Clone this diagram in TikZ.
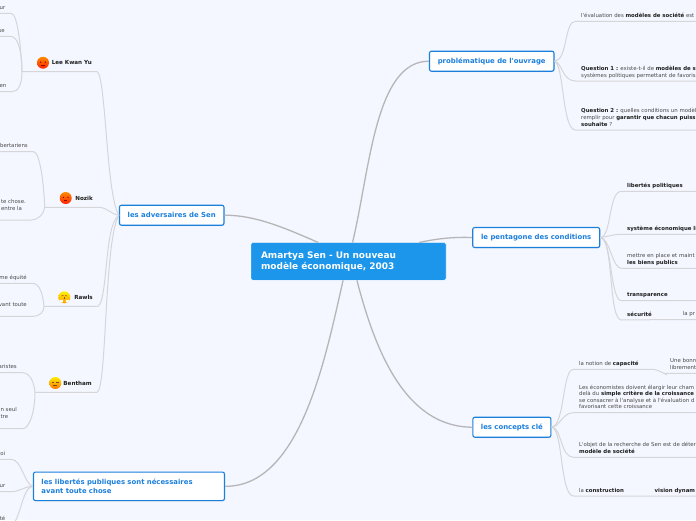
\documentclass[tikz,border=0pt]{standalone}
\usepackage{fontspec}
\setmainfont{DejaVu Sans}[Ligatures=TeXOff]
\usetikzlibrary{shadows}
\definecolor{paper}{HTML}{F4F7FF}
\definecolor{rootblue}{HTML}{1B96EA}
\definecolor{boxblue}{HTML}{1B7FDC}
\definecolor{limbgray}{HTML}{B6B6B8}
\definecolor{twiggray}{HTML}{D6D6DA}
\definecolor{inkgray}{HTML}{4A4A4A}
\definecolor{inkdark}{HTML}{1E1E1E}
\begin{document}
\begin{tikzpicture}[
    x=1pt, y=-1pt,
    rootbox/.style={fill=rootblue, draw=white, line width=0.3pt, rounded corners=1.5pt, text width=175pt, minimum height=37.5pt, inner xsep=10pt, align=left, text=white, font=\fontsize{9}{11.6}\selectfont\bfseries},
    topicbox/.style={fill=white, draw=boxblue, line width=1.1pt, rounded corners=2pt, minimum height=20pt, text=boxblue, font=\fontsize{6.9}{8.8}\selectfont\bfseries, drop shadow={shadow xshift=0.4pt, shadow yshift=-0.8pt, opacity=0.2}},
    leaf/.style={inner xsep=5.5pt, inner ysep=2.6pt, text depth=1.2pt, align=left, text=inkgray, font=\fontsize{5.4}{6.55}\selectfont},
    leafr/.style={leaf, anchor=south west},
    leafl/.style={leaf, anchor=south east},
    who/.style={anchor=south east, inner xsep=5pt, inner ysep=5.4pt, text depth=1.2pt, text=inkdark, font=\fontsize{5.6}{6.5}\selectfont\bfseries},
    limb/.style={draw=limbgray, line width=1.3pt},
    twig/.style={draw=twiggray, line width=1pt},
    facebase/.style={circle, minimum size=12pt, inner sep=0pt},
    angry/.style={facebase, top color=orange!90!yellow, bottom color=red!75!orange, path picture={
        \fill[red!55!black] (-2.3,-0.6) circle (0.7) (2.3,-0.6) circle (0.7);
        \draw[red!55!black, line width=0.5pt] (-1.7,2.6) -- (1.7,2.6);}},
    hugging/.style={facebase, top color=yellow!90!orange, bottom color=orange!80!yellow, path picture={
        \draw[brown!70!black, line width=0.5pt] (-3,-1.2) -- (-0.8,-2) (0.8,-2) -- (3,-1.2);
        \draw[brown!70!black, line width=0.5pt] (0,-0.5) -- (0,2);
        \fill[white] (-5,2.6) rectangle (-1.5,5) (1.5,2.6) rectangle (5,5);}},
    flat/.style={facebase, top color=yellow!85!orange, bottom color=orange!90!red, path picture={
        \draw[brown!60!black, line width=0.6pt] (-3.4,-1) -- (-0.9,-1) (0.9,-1) -- (3.4,-1) (-2,2.2) -- (2,2.2);}},
]
    \useasboundingbox (0,0) rectangle (696,520);
    \fill[paper] (0,0) rectangle (696,520);
    \clip (0,0) rectangle (696,520);
    \coordinate (rimr) at (696,0);
    \coordinate (riml) at (0,0);

    \node[rootbox] (root) at (348.5,261.4) {Amartya Sen - Un nouveau\\modèle économique, 2003};

    \node[topicbox, minimum width=124.5pt] (pb) at (491.7,61.2) {problématique de l'ouvrage};
    \node[topicbox, minimum width=127pt] (pe) at (536.2,237.5) {le pentagone des conditions};
    \node[topicbox, minimum width=78pt] (cc) at (511.9,427.2) {les concepts clé};
    \node[topicbox, minimum width=104.5pt] (ad) at (171.7,215.2) {les adversaires de Sen};
    \node[topicbox, text width=175pt, inner xsep=8pt, minimum height=28.5pt, align=left, anchor=west] (lb) at (32.9,486.3) {les libertés publiques sont nécessaires\\avant toute chose};

    % main branches
    \draw[limb] (root.148) .. controls (285,228) and (255,215) .. (ad.east);
    \draw[limb] (root.78) .. controls (370,170) and (375,61) .. (pb.west);
    \draw[limb] (root.15) .. controls (440,238) and (455,237) .. (pe.west);
    \draw[limb] (root.-66) .. controls (375,350) and (405,427) .. (cc.west);
    \draw[limb] (root.-106) .. controls (325,360) and (300,487) .. (lb.east);

    % problematique
    \node[leafr] (qa) at (575.5,21.3) {l'évaluation des \textcolor{inkdark}{\textbf{modèles de société}} est};
    \node[leafr] (qb) at (575.5,81) {\textcolor{inkdark}{\textbf{Question 1 :}} existe-t-il de \textcolor{inkdark}{\textbf{modèles de s}}\\systèmes politiques permettant de favoris};
    \node[leafr] (qc) at (575.5,130) {\textcolor{inkdark}{\textbf{Question 2 :}} quelles conditions un modèl\\remplir pour \textcolor{inkdark}{\textbf{garantir que chacun puiss}}\\\textcolor{inkdark}{\textbf{souhaite}} ?};
    \draw[twig] (pb.east) .. controls (568,60) and (564,21.3) .. (qa.south west) -- (qa.south west -| rimr);
    \draw[twig] (pb.east) .. controls (562,62) and (562,81) .. (qb.south west) -- (qb.south west -| rimr);
    \draw[twig] (pb.east) .. controls (564,64) and (562,130) .. (qc.south west) -- (qc.south west -| rimr);

    % pentagone
    \node[leafr] (pa) at (621.5,191.3) {\textcolor{inkdark}{\textbf{libertés politiques}}};
    \node[leafr] (pc) at (621.5,234.3) {\textcolor{inkdark}{\textbf{système économique li}}};
    \node[leafr] (pd) at (621.5,268.3) {mettre en place et maint\\\textcolor{inkdark}{\textbf{les biens publics}}};
    \node[leafr] (pt) at (621.5,300.7) {\textcolor{inkdark}{\textbf{transparence}}};
    \node[leafr] (ps) at (621.5,320) {\textcolor{inkdark}{\textbf{sécurité}}};
    \node[leafr] (pr) at (677.2,319.5) {la pr};
    \draw[twig] (pe.east) .. controls (612,237) and (608,191.3) .. (pa.south west) -- (pa.south west -| rimr);
    \draw[twig] (pe.east) .. controls (607,237) and (612,234.3) .. (pc.south west) -- (pc.south west -| rimr);
    \draw[twig] (pe.east) .. controls (610,238) and (612,268.3) .. (pd.south west) -- (pd.south west -| rimr);
    \draw[twig] (pe.east) .. controls (612,238) and (610,300.7) .. (pt.south west) -- (pt.south west -| rimr);
    \draw[twig] (pe.east) .. controls (614,238) and (608,320) .. (ps.south west) -- (pr.south west) -- (pr.south west -| rimr);

    % concepts
    \node[leafr] (ca) at (573.5,369.3) {la notion de \textcolor{inkdark}{\textbf{capacité}}};
    \node[leafr] (cb) at (664.5,373.3) {Une bonn\\librement};
    \node[leafr] (cd) at (573.5,412.7) {Les économistes doivent élargir leur cham\\delà du \textcolor{inkdark}{\textbf{simple critère de la croissance}}\\se consacrer à l'analyse et à l'évaluation d\\favorisant cette croissance};
    \node[leafr] (ce) at (573.5,457.3) {L'objet de la recherche de Sen est de déter\\\textcolor{inkdark}{\textbf{modèle de société}}};
    \node[leafr] (cf) at (573.5,496) {la \textcolor{inkdark}{\textbf{construction}}};
    \node[leafr] (cg) at (649,496) {\textcolor{inkdark}{\textbf{vision dynam}}};
    \draw[twig] (cc.east) .. controls (565,426) and (562,369.3) .. (ca.south west) -- ++(79,0) .. controls ++(6,0) and ++(6,4) .. (cb.south west) -- (cb.south west -| rimr);
    \draw[twig] (cc.east) .. controls (560,427) and (562,412.7) .. (cd.south west) -- (cd.south west -| rimr);
    \draw[twig] (cc.east) .. controls (562,427) and (560,457.3) .. (ce.south west) -- (ce.south west -| rimr);
    \draw[twig] (cc.east) .. controls (563,427) and (560,496) .. (cf.south west) -- (cg.south west) -- (cg.south west -| rimr);

    % Lee Kwan Yu
    \node[who] (lk) at (97,71.5) {Lee Kwan Yu};
    \node[angry] (lkface) at (43,62.7) {};
    \coordinate (lkfork) at (22,71.5);
    \node[leafl] (lka) at (11,13.3) {ur};
    \node[leafl] (lkb) at (10.5,36.3) {se};
    \node[leafl] (lkc) at (12,91.7) {en};
    \draw[twig] (ad.west) .. controls (106,195) and (106,75) .. (lk.south east) -- (lkfork);
    \draw[twig] (lkfork) .. controls (21,50) and (18,13.3) .. (lka.south east) -- (lka.south east -| riml);
    \draw[twig] (lkfork) .. controls (22,55) and (19,36.3) .. (lkb.south east) -- (lkb.south east -| riml);
    \draw[twig] (lkfork) .. controls (22,85) and (18,91.7) .. (lkc.south east) -- (lkc.south east -| riml);

    % Nozik
    \node[who] (nz) at (98,207.3) {Nozik};
    \node[angry] (nzface) at (65.7,198) {};
    \coordinate (nzfork) at (44.7,207.3);
    \node[leafl] (nza) at (33.5,151.7) {bertariens};
    \node[leafl, inner ysep=8.4pt] (nzb) at (31.5,220) {te chose.\\entre la};
    \draw[twig] (ad.west) .. controls (110,214) and (108,207.3) .. (nz.south east) -- (nzfork);
    \draw[twig] (nzfork) .. controls (44,185) and (40,151.7) .. (nza.south east) -- (nza.south east -| riml);
    \draw[twig] (nzfork) .. controls (44,214) and (38,220) .. (nzb.south east) -- (nzb.south east -| riml);

    % Rawls
    \node[who] (rl) at (98,306.3) {Rawls};
    \node[hugging] (rlface) at (64.3,297.3) {};
    \coordinate (rlfork) at (44,306.3);
    \node[leafl] (rla) at (32.5,283.3) {me équité};
    \node[leafl, inner ysep=8.4pt] (rlb) at (32.5,316.3) {vant toute};
    \draw[twig] (ad.west) .. controls (104,225) and (108,300) .. (rl.south east) -- (rlfork);
    \draw[twig] (rlfork) .. controls (43,295) and (40,283.3) .. (rla.south east) -- (rla.south east -| riml);
    \draw[twig] (rlfork) .. controls (44,312) and (40,316.3) .. (rlb.south east) -- (rlb.south east -| riml);

    % Bentham
    \node[who] (bt) at (97,392.3) {Bentham};
    \node[flat] (btface) at (55.3,383) {};
    \coordinate (btfork) at (35,392.3);
    \node[leafl] (bta) at (22.5,372.7) {aristes};
    \node[leafl, inner ysep=9.1pt] (btb) at (22.5,428.7) {n seul\\tre};
    \draw[twig] (ad.west) .. controls (104,240) and (107,390) .. (bt.south east) -- (btfork);
    \draw[twig] (btfork) .. controls (34,382) and (30,372.7) .. (bta.south east) -- (bta.south east -| riml);
    \draw[twig] (btfork) .. controls (35,410) and (30,428.7) .. (btb.south east) -- (btb.south east -| riml);

    % libertes
    \node[leafl] (lba) at (11,459.3) {oi};
    \node[leafl] (lbb) at (11,491.7) {ur};
    \node[leafl] (lbc) at (11,524.3) {té};
    \draw[twig] (lb.west) .. controls (24,484) and (22,459.3) .. (lba.south east) -- (lba.south east -| riml);
    \draw[twig] (lb.west) .. controls (25,486) and (20,491.7) .. (lbb.south east) -- (lbb.south east -| riml);
    \draw[twig] (lb.west) .. controls (22,486) and (20,524.3) .. (lbc.south east) -- (lbc.south east -| riml);
\end{tikzpicture}
\end{document}
